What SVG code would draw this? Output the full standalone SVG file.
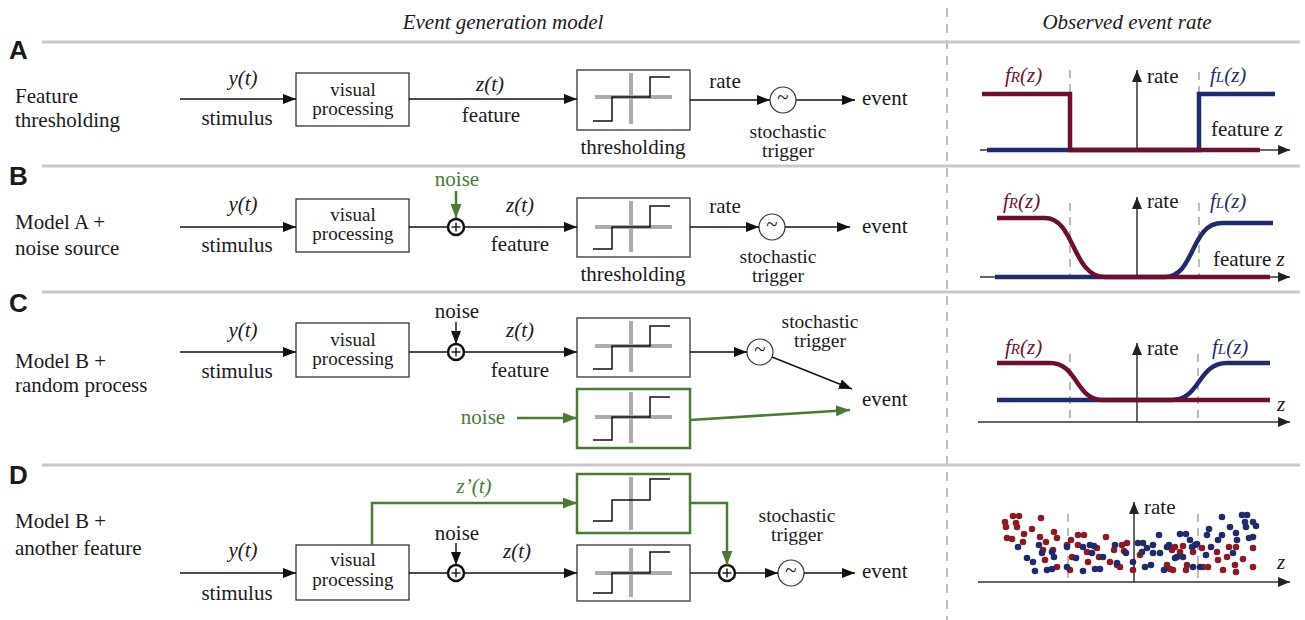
<svg xmlns="http://www.w3.org/2000/svg" width="1305" height="620" viewBox="0 0 1305 620">
<style>
.t{font-size:21px;fill:#1a1a1a}
.bx{font-size:19px}
.st{font-size:19.5px}
.m{text-anchor:middle}
.i{font-style:italic}
.gt{fill:#4a7a36}
.rt{fill:#6b0f33}
.bt{fill:#1f2b6b}
.lbl{font-weight:bold;font-size:26px;fill:#1a1a1a}
.sep{stroke:#c8c8c8;stroke-width:3}
.vdash{stroke:#bdbdbd;stroke-width:2;stroke-dasharray:9 7}
.box{fill:#fff;stroke:#333;stroke-width:1.3}
.gbox{fill:#fff;stroke:#4a7a36;stroke-width:2.5}
.cross{stroke:#acacac;stroke-width:4}
.step{fill:none;stroke:#111;stroke-width:1.5}
.ln{stroke:#111;stroke-width:1.4;fill:none}
.gln{stroke:#4a7a36;stroke-width:2.5;fill:none}
.sum{fill:#fff;stroke:#111;stroke-width:2.5}
.plus{stroke:#111;stroke-width:1.4}
.trig{fill:#fff;stroke:#333;stroke-width:1.2}
.ax{stroke:#333;stroke-width:1.5}
.dash{stroke:#bbb;stroke-width:2;stroke-dasharray:8 6}
.fr{stroke:#6b0f33;stroke-width:4.5;fill:none}
.fl{stroke:#1f2b6b;stroke-width:4.5;fill:none}
.rd{fill:#8b1a22}
.bd{fill:#1f2b6b}
</style>
<defs>
<marker id="ah" viewBox="0 0 13 10" refX="13" refY="5" markerWidth="13" markerHeight="10" markerUnits="userSpaceOnUse" orient="auto"><path d="M0,0 L13,5 L0,10 z" fill="#111"/></marker>
<marker id="gah" viewBox="0 0 14 11" refX="14" refY="5.5" markerWidth="14" markerHeight="11" markerUnits="userSpaceOnUse" orient="auto"><path d="M0,0 L14,5.5 L0,11 z" fill="#4a7a36"/></marker>
<marker id="axh" viewBox="0 0 12 10" refX="12" refY="5" markerWidth="12" markerHeight="10" markerUnits="userSpaceOnUse" orient="auto"><path d="M0,0 L12,5 L0,10 z" fill="#222"/></marker>
<g id="tr"><circle class="trig" r="13"/><text class="t m" y="4" font-size="13" font-family="Liberation Serif, serif">~</text></g>
<g id="sm"><circle class="sum" r="8"/><line class="plus" x1="-4.5" y1="0" x2="4.5" y2="0"/><line class="plus" x1="0" y1="-4.5" x2="0" y2="4.5"/></g>
</defs>
<rect width="1305" height="620" fill="#fff"/>

<g font-family="Liberation Serif, Times New Roman, serif">

<g id="frame">
<text class="t i m" x="503" y="29" font-size="22">Event generation model</text>
<text class="t i m" x="1127" y="29" font-size="22">Observed event rate</text>
<line class="vdash" x1="947" y1="8" x2="947" y2="620"/>
<line class="sep" x1="42" y1="42" x2="1300" y2="42"/>
<line class="sep" x1="42" y1="166" x2="1300" y2="166"/>
<line class="sep" x1="42" y1="292" x2="1300" y2="292"/>
<line class="sep" x1="42" y1="465" x2="1300" y2="465"/>
<g font-family="Liberation Sans, Arial, sans-serif">
<text class="lbl" x="9" y="59">A</text>
<text class="lbl" x="9" y="185">B</text>
<text class="lbl" x="9" y="312">C</text>
<text class="lbl" x="9" y="484">D</text>
</g>
</g>

<g id="panelA">
<text class="t" x="15" y="103">Feature</text>
<text class="t" x="15" y="127">thresholding</text>
<text class="t i m" x="243" y="85">y(t)</text>
<text class="t m" x="237" y="125">stimulus</text>
<g id="A-visual"><rect class="box" x="296" y="73" width="113" height="53"/><text class="t bx m" x="353" y="96">visual</text><text class="t bx m" x="353" y="115">processing</text></g>
<text class="t i m" x="490" y="91">z(t)</text>
<text class="t m" x="491" y="122">feature</text>
<g id="A-thresh"><rect class="box" x="577" y="70" width="113" height="60"/><line class="cross" x1="631" y1="73" x2="631" y2="124"/><line class="cross" x1="595" y1="97" x2="672" y2="97"/><path class="step" d="M593,121 H612 V97 H650 V77 H670"/><text class="t m" x="633" y="154">thresholding</text></g>
<text class="t m" x="725" y="88">rate</text>
<use href="#tr" x="783" y="100"/>
<text class="t st m" x="788" y="138">stochastic</text>
<text class="t st m" x="788" y="157">trigger</text>
<text class="t" x="862" y="105">event</text>
</g>

<g id="panelB">
<text class="t" x="15" y="229">Model A +</text>
<text class="t" x="15" y="255">noise source</text>
<text class="t i m" x="243" y="211">y(t)</text>
<text class="t m" x="237" y="252">stimulus</text>
<g id="B-visual"><rect class="box" x="296" y="199" width="113" height="53"/><text class="t bx m" x="353" y="221">visual</text><text class="t bx m" x="353" y="240">processing</text></g>
<text class="t gt m" x="457" y="186">noise</text>
<text class="t i m" x="520" y="212">z(t)</text>
<text class="t m" x="520" y="251">feature</text>
<g id="B-thresh"><rect class="box" x="577" y="198" width="113" height="59"/><line class="cross" x1="631" y1="201" x2="631" y2="252"/><line class="cross" x1="595" y1="227" x2="672" y2="227"/><path class="step" d="M593,249 H612 V227 H650 V206 H670"/><text class="t m" x="633" y="281">thresholding</text></g>
<text class="t m" x="725" y="213">rate</text>
<use href="#sm" x="456" y="227"/>
<use href="#tr" x="772" y="227"/>
<text class="t st m" x="778" y="263">stochastic</text>
<text class="t st m" x="778" y="282">trigger</text>
<text class="t" x="862" y="233">event</text>
</g>

<g id="panelC">
<text class="t" x="15" y="368">Model B +</text>
<text class="t" x="15" y="392">random process</text>
<text class="t i m" x="243" y="337">y(t)</text>
<text class="t m" x="237" y="378">stimulus</text>
<g id="C-visual"><rect class="box" x="296" y="323" width="113" height="54"/><text class="t bx m" x="353" y="346">visual</text><text class="t bx m" x="353" y="365">processing</text></g>
<text class="t m" x="457" y="318">noise</text>
<use href="#sm" x="456" y="352"/>
<text class="t i m" x="520" y="337">z(t)</text>
<text class="t m" x="520" y="377">feature</text>
<g id="C-thresh"><rect class="box" x="577" y="318" width="113" height="59"/><line class="cross" x1="631" y1="321" x2="631" y2="372"/><line class="cross" x1="595" y1="346" x2="672" y2="346"/><path class="step" d="M593,369 H612 V346 H650 V326 H670"/></g>
<use href="#tr" x="760" y="352"/>
<text class="t st m" x="820" y="328">stochastic</text>
<text class="t st m" x="820" y="347">trigger</text>
<text class="t" x="862" y="406">event</text>
<text class="t gt m" x="483" y="424">noise</text>
<g id="C-random"><rect class="gbox" x="577" y="389" width="113" height="59"/><line class="cross" x1="631" y1="392" x2="631" y2="443"/><line class="cross" x1="595" y1="417" x2="672" y2="417"/><path class="step" d="M593,440 H612 V417 H650 V397 H670"/></g>
</g>

<g id="panelD">
<text class="t" x="15" y="528">Model B +</text>
<text class="t" x="15" y="555">another feature</text>
<text class="t i m" x="243" y="557">y(t)</text>
<text class="t m" x="237" y="600">stimulus</text>
<g id="D-visual"><rect class="box" x="296" y="545" width="113" height="55"/><text class="t bx m" x="353" y="566">visual</text><text class="t bx m" x="353" y="586">processing</text></g>
<text class="t i m gt" x="474" y="493">z’(t)</text>
<g id="D-thresh2"><rect class="gbox" x="577" y="474" width="113" height="59"/><line class="cross" x1="631" y1="477" x2="631" y2="530"/><path class="step" d="M593,521 H612 V500 H650 V479 H670"/></g>
<text class="t m" x="457" y="540">noise</text>
<use href="#sm" x="456" y="573"/>
<text class="t i m" x="517" y="558">z(t)</text>
<g id="D-thresh"><rect class="box" x="577" y="545" width="113" height="56"/><line class="cross" x1="631" y1="548" x2="631" y2="597"/><line class="cross" x1="595" y1="573" x2="672" y2="573"/><path class="step" d="M593,593 H612 V573 H650 V552 H670"/></g>
<use href="#sm" x="727" y="573"/>
<use href="#tr" x="791" y="573"/>
<text class="t st m" x="797" y="522">stochastic</text>
<text class="t st m" x="797" y="541">trigger</text>
<text class="t" x="862" y="578">event</text>
</g>

<g id="connectors">
<line class="ln" x1="180" y1="99" x2="296" y2="99" marker-end="url(#ah)"/>
<line class="ln" x1="409" y1="99" x2="577" y2="99" marker-end="url(#ah)"/>
<line class="ln" x1="690" y1="100" x2="770" y2="100" marker-end="url(#ah)"/>
<line class="ln" x1="796" y1="100" x2="855" y2="100" marker-end="url(#ah)"/>

<line class="ln" x1="180" y1="227" x2="296" y2="227" marker-end="url(#ah)"/>
<line class="ln" x1="409" y1="227" x2="448" y2="227"/>
<line class="gln" x1="456" y1="191" x2="456" y2="218" marker-end="url(#gah)"/>
<line class="ln" x1="464" y1="227" x2="577" y2="227" marker-end="url(#ah)"/>
<line class="ln" x1="690" y1="227" x2="759" y2="227" marker-end="url(#ah)"/>
<line class="ln" x1="785" y1="227" x2="850" y2="227" marker-end="url(#ah)"/>

<line class="ln" x1="180" y1="352" x2="296" y2="352" marker-end="url(#ah)"/>
<line class="ln" x1="409" y1="352" x2="448" y2="352"/>
<line class="ln" x1="456" y1="322" x2="456" y2="344" marker-end="url(#ah)"/>
<line class="ln" x1="464" y1="352" x2="577" y2="352" marker-end="url(#ah)"/>
<line class="ln" x1="690" y1="352" x2="747" y2="352" marker-end="url(#ah)"/>
<line class="ln" x1="772" y1="357" x2="852" y2="389" marker-end="url(#ah)"/>
<line class="gln" x1="517" y1="418" x2="577" y2="418" marker-end="url(#gah)"/>
<line class="gln" x1="690" y1="420" x2="850" y2="410" marker-end="url(#gah)"/>

<line class="ln" x1="180" y1="573" x2="296" y2="573" marker-end="url(#ah)"/>
<line class="ln" x1="409" y1="573" x2="448" y2="573"/>
<line class="ln" x1="456" y1="543" x2="456" y2="565" marker-end="url(#ah)"/>
<line class="ln" x1="464" y1="573" x2="577" y2="573" marker-end="url(#ah)"/>
<path class="gln" d="M372,545 V503 H577" marker-end="url(#gah)"/>
<path class="gln" d="M690,503 H727 V565" marker-end="url(#gah)"/>
<line class="ln" x1="690" y1="573" x2="719" y2="573"/>
<line class="ln" x1="735" y1="573" x2="778" y2="573" marker-end="url(#ah)"/>
<line class="ln" x1="804" y1="573" x2="855" y2="573" marker-end="url(#ah)"/>
</g>

<g id="plotA">
<line class="dash" x1="1070" y1="70" x2="1070" y2="150"/>
<line class="dash" x1="1199" y1="72" x2="1199" y2="150"/>
<line class="ax" x1="980" y1="150" x2="1290" y2="150" marker-end="url(#axh)"/>
<line class="ax" x1="1137" y1="150" x2="1137" y2="70" marker-end="url(#axh)"/>
<path class="fl" d="M987,150 H1199 V94 H1275"/>
<path class="fr" d="M982,94 H1070 V150 H1260"/>
<text class="t" x="1147" y="83">rate</text>
<text class="t" x="1211" y="136">feature <tspan class="i">z</tspan></text>
<text class="t i rt" x="1005" y="82">f<tspan font-size="15">R</tspan>(z)</text>
<text class="t i bt" x="1210" y="82">f<tspan font-size="15">L</tspan>(z)</text>
</g>

<g id="plotB">
<line class="dash" x1="1070" y1="203" x2="1070" y2="277"/>
<line class="dash" x1="1199" y1="203" x2="1199" y2="277"/>
<line class="ax" x1="980" y1="277" x2="1290" y2="277" marker-end="url(#axh)"/>
<line class="ax" x1="1137" y1="277" x2="1137" y2="197" marker-end="url(#axh)"/>
<path class="fl" d="M995,277 H1165 C1195,277 1190,223 1222,223 H1273"/>
<path class="fr" d="M997,218 H1045 C1075,218 1072,277 1105,277 H1270"/>
<text class="t" x="1147" y="208">rate</text>
<text class="t" x="1213" y="266">feature <tspan class="i">z</tspan></text>
<text class="t i rt" x="1003" y="208">f<tspan font-size="15">R</tspan>(z)</text>
<text class="t i bt" x="1210" y="208">f<tspan font-size="15">L</tspan>(z)</text>
</g>

<g id="plotC">
<line class="dash" x1="1070" y1="354" x2="1070" y2="422"/>
<line class="dash" x1="1198" y1="354" x2="1198" y2="422"/>
<line class="ax" x1="978" y1="422" x2="1290" y2="422" marker-end="url(#axh)"/>
<line class="ax" x1="1137" y1="422" x2="1137" y2="343" marker-end="url(#axh)"/>
<path class="fl" d="M997,400 H1172 C1200,400 1198,363 1227,363 H1270"/>
<path class="fr" d="M997,363 H1050 C1078,363 1075,400 1103,400 H1270"/>
<text class="t" x="1147" y="355">rate</text>
<text class="t i" x="1277" y="411">z</text>
<text class="t i rt" x="1005" y="354">f<tspan font-size="15">R</tspan>(z)</text>
<text class="t i bt" x="1212" y="354">f<tspan font-size="15">L</tspan>(z)</text>
</g>

<g id="plotD">
<line class="dash" x1="1068" y1="514" x2="1068" y2="582"/>
<line class="dash" x1="1198" y1="514" x2="1198" y2="582"/>
<line class="ax" x1="978" y1="582" x2="1290" y2="582" marker-end="url(#axh)"/>
<line class="ax" x1="1134" y1="582" x2="1134" y2="502" marker-end="url(#axh)"/>
<text class="t" x="1144" y="514">rate</text>
<text class="t i" x="1277" y="569">z</text>
<g id="dots-red" class="rd">
<circle cx="1005" cy="522" r="3.3"/><circle cx="1013" cy="516" r="3.3"/><circle cx="1019" cy="516" r="3.3"/><circle cx="1016" cy="523" r="3.3"/><circle cx="1017" cy="527" r="3.3"/><circle cx="1006" cy="527" r="3.3"/><circle cx="1007" cy="538" r="3.3"/><circle cx="1012" cy="539" r="3.3"/><circle cx="1024" cy="534" r="3.3"/><circle cx="1032" cy="529" r="3.3"/><circle cx="1041" cy="518" r="3.3"/><circle cx="1023" cy="542" r="3.3"/><circle cx="1040" cy="537" r="3.3"/><circle cx="1054" cy="532" r="3.3"/><circle cx="1057" cy="538" r="3.3"/><circle cx="1046" cy="542" r="3.3"/><circle cx="1043" cy="550" r="3.3"/><circle cx="1053" cy="550" r="3.3"/><circle cx="1045" cy="560" r="3.3"/><circle cx="1057" cy="567" r="3.3"/><circle cx="1071" cy="540" r="3.3"/><circle cx="1078" cy="535" r="3.3"/><circle cx="1084" cy="535" r="3.3"/><circle cx="1067" cy="545" r="3.3"/><circle cx="1078" cy="545" r="3.3"/><circle cx="1072" cy="557" r="3.3"/><circle cx="1070" cy="570" r="3.3"/><circle cx="1087" cy="552" r="3.3"/><circle cx="1088" cy="562" r="3.3"/><circle cx="1097" cy="548" r="3.3"/><circle cx="1099" cy="557" r="3.3"/><circle cx="1106" cy="537" r="3.3"/><circle cx="1110" cy="562" r="3.3"/><circle cx="1114" cy="550" r="3.3"/><circle cx="1117" cy="565" r="3.3"/><circle cx="1122" cy="545" r="3.3"/><circle cx="1124" cy="551" r="3.3"/><circle cx="1127" cy="543" r="3.3"/><circle cx="1120" cy="567" r="3.3"/><circle cx="1133" cy="570" r="3.3"/><circle cx="1140" cy="555" r="3.3"/><circle cx="1167" cy="565" r="3.3"/><circle cx="1173" cy="570" r="3.3"/><circle cx="1175" cy="547" r="3.3"/><circle cx="1183" cy="546" r="3.3"/><circle cx="1187" cy="565" r="3.3"/><circle cx="1186" cy="570" r="3.3"/><circle cx="1193" cy="552" r="3.3"/><circle cx="1202" cy="548" r="3.3"/><circle cx="1203" cy="567" r="3.3"/><circle cx="1208" cy="567" r="3.3"/><circle cx="1217" cy="552" r="3.3"/><circle cx="1218" cy="560" r="3.3"/><circle cx="1223" cy="570" r="3.3"/><circle cx="1227" cy="557" r="3.3"/><circle cx="1229" cy="547" r="3.3"/><circle cx="1236" cy="547" r="3.3"/><circle cx="1235" cy="565" r="3.3"/><circle cx="1236" cy="572" r="3.3"/><circle cx="1243" cy="559" r="3.3"/><circle cx="1253" cy="548" r="3.3"/><circle cx="1253" cy="567" r="3.3"/><circle cx="1172" cy="550" r="3.3"/><circle cx="1180" cy="552" r="3.3"/><circle cx="1170" cy="569" r="3.3"/>
</g>
<g id="dots-blue" class="bd">
<circle cx="1018" cy="547" r="3.3"/><circle cx="1027" cy="558" r="3.3"/><circle cx="1033" cy="562" r="3.3"/><circle cx="1035" cy="571" r="3.3"/><circle cx="1039" cy="545" r="3.3"/><circle cx="1042" cy="553" r="3.3"/><circle cx="1047" cy="570" r="3.3"/><circle cx="1052" cy="569" r="3.3"/><circle cx="1052" cy="552" r="3.3"/><circle cx="1054" cy="557" r="3.3"/><circle cx="1067" cy="547" r="3.3"/><circle cx="1067" cy="567" r="3.3"/><circle cx="1076" cy="558" r="3.3"/><circle cx="1083" cy="571" r="3.3"/><circle cx="1083" cy="547" r="3.3"/><circle cx="1090" cy="545" r="3.3"/><circle cx="1092" cy="553" r="3.3"/><circle cx="1094" cy="546" r="3.3"/><circle cx="1095" cy="569" r="3.3"/><circle cx="1100" cy="569" r="3.3"/><circle cx="1103" cy="557" r="3.3"/><circle cx="1115" cy="545" r="3.3"/><circle cx="1117" cy="563" r="3.3"/><circle cx="1126" cy="553" r="3.3"/><circle cx="1133" cy="562" r="3.3"/><circle cx="1138" cy="543" r="3.3"/><circle cx="1142" cy="552" r="3.3"/><circle cx="1143" cy="543" r="3.3"/><circle cx="1145" cy="567" r="3.3"/><circle cx="1151" cy="565" r="3.3"/><circle cx="1153" cy="553" r="3.3"/><circle cx="1159" cy="535" r="3.3"/><circle cx="1160" cy="553" r="3.3"/><circle cx="1164" cy="570" r="3.3"/><circle cx="1167" cy="547" r="3.3"/><circle cx="1169" cy="545" r="3.3"/><circle cx="1177" cy="557" r="3.3"/><circle cx="1180" cy="534" r="3.3"/><circle cx="1186" cy="534" r="3.3"/><circle cx="1190" cy="540" r="3.3"/><circle cx="1192" cy="547" r="3.3"/><circle cx="1195" cy="545" r="3.3"/><circle cx="1197" cy="544" r="3.3"/><circle cx="1200" cy="567" r="3.3"/><circle cx="1206" cy="555" r="3.3"/><circle cx="1207" cy="535" r="3.3"/><circle cx="1209" cy="529" r="3.3"/><circle cx="1211" cy="547" r="3.3"/><circle cx="1218" cy="540" r="3.3"/><circle cx="1222" cy="517" r="3.3"/><circle cx="1222" cy="535" r="3.3"/><circle cx="1230" cy="527" r="3.3"/><circle cx="1233" cy="553" r="3.3"/><circle cx="1236" cy="533" r="3.3"/><circle cx="1237" cy="540" r="3.3"/><circle cx="1242" cy="515" r="3.3"/><circle cx="1247" cy="515" r="3.3"/><circle cx="1245" cy="522" r="3.3"/><circle cx="1246" cy="527" r="3.3"/><circle cx="1253" cy="522" r="3.3"/><circle cx="1256" cy="526" r="3.3"/><circle cx="1253" cy="537" r="3.3"/><circle cx="1249" cy="538" r="3.3"/><circle cx="1153" cy="545" r="3.3"/><circle cx="1147" cy="548" r="3.3"/><circle cx="1193" cy="567" r="3.3"/><circle cx="1175" cy="558" r="3.3"/><circle cx="1183" cy="557" r="3.3"/>
</g>
</g>
</g>
</svg>
